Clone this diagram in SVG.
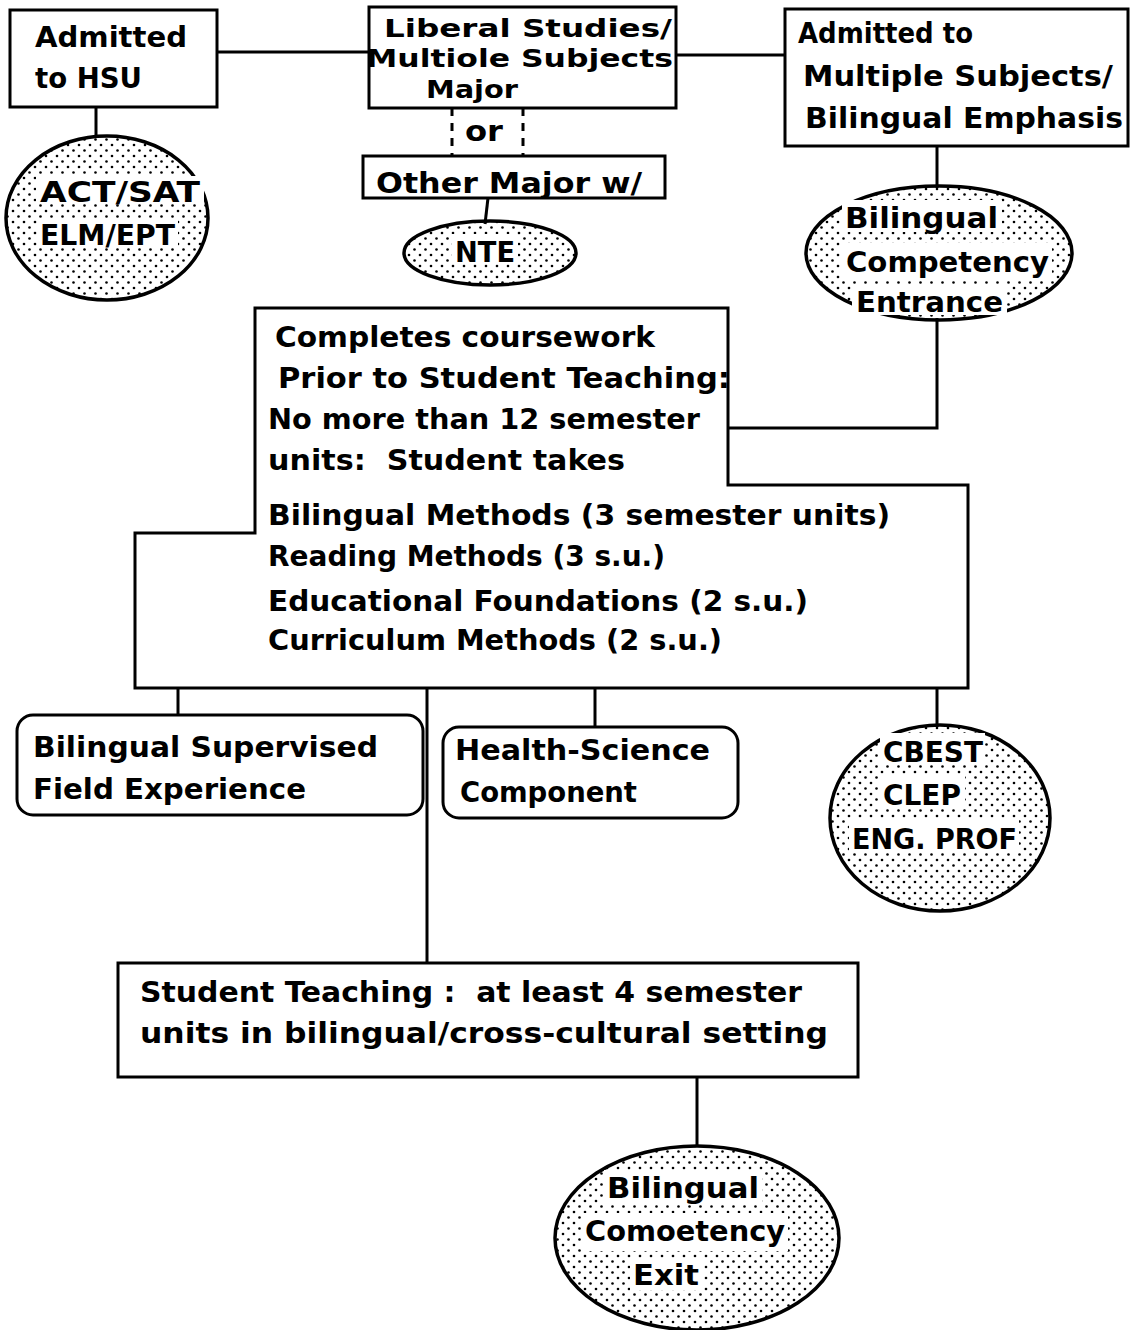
<svg xmlns="http://www.w3.org/2000/svg" width="1130" height="1330" viewBox="0 0 1130 1330">
<defs>
<pattern id="dots" width="11" height="11" patternUnits="userSpaceOnUse">
<circle cx="2" cy="2" r="1.3" fill="#000"/>
<circle cx="7.5" cy="7.5" r="1.3" fill="#000"/>
</pattern>
<style>
.box{fill:#fff;stroke:#000;stroke-width:3}
.oval{fill:url(#dots);stroke:#000;stroke-width:3.5}
.ln{fill:none;stroke:#000;stroke-width:3}
.dash{fill:none;stroke:#000;stroke-width:3;stroke-dasharray:8 7}
.bg{fill:#fff}
.pre{white-space:pre}
.sm{font-size:25px}
text{font-family:"DejaVu Sans Condensed","DejaVu Sans",sans-serif;font-weight:bold;font-size:29px;fill:#000}
</style>
</defs>
<rect width="1130" height="1330" fill="#fff"/>
<g id="connectors">
<path class="ln" d="M217,52 H370"/>
<path class="ln" d="M676,55 H785"/>
<path class="ln" d="M96,107 V137"/>
<path class="dash" d="M452,108 V156"/>
<path class="dash" d="M523,108 V156"/>
<path class="ln" d="M488,198 L485,224"/>
<path class="ln" d="M937,146 V188"/>
<path class="ln" d="M937,318 V428 H728"/>
<path class="ln" d="M178,688 V715"/>
<path class="ln" d="M595,688 V727"/>
<path class="ln" d="M937,688 V727"/>
<path class="ln" d="M427,688 V963"/>
<path class="ln" d="M697,1077 V1147"/>
</g>
<g id="hsu">
<rect class="box" x="10" y="10" width="207" height="97"/>
<text x="35" y="47" textLength="152" lengthAdjust="spacingAndGlyphs">Admitted</text>
<text x="35" y="88" textLength="107" lengthAdjust="spacingAndGlyphs">to HSU</text>
</g>
<g id="act">
<ellipse class="oval" cx="107" cy="218" rx="101" ry="82"/>
<rect class="bg" x="36" y="176" width="168" height="28"/>
<rect class="bg" x="38" y="219" width="140" height="28"/>
<text x="40" y="202" textLength="160" lengthAdjust="spacingAndGlyphs">ACT/SAT</text>
<text x="40" y="245" textLength="135" lengthAdjust="spacingAndGlyphs">ELM/EPT</text>
</g>
<g id="liberal">
<rect class="box" x="369" y="7" width="307" height="101"/>
<text class="sm" x="384" y="37" textLength="288" lengthAdjust="spacingAndGlyphs">Liberal Studies/</text>
<text class="sm" x="366" y="67" textLength="307" lengthAdjust="spacingAndGlyphs">Multiole Subjects</text>
<text class="sm" x="426" y="98" textLength="92" lengthAdjust="spacingAndGlyphs">Major</text>
<text x="465" y="141" textLength="38" lengthAdjust="spacingAndGlyphs">or</text>
</g>
<g id="other">
<rect class="box" x="363" y="156" width="302" height="42"/>
<text x="376" y="193" textLength="266" lengthAdjust="spacingAndGlyphs">Other Major w/</text>
</g>
<g id="nte">
<ellipse class="oval" cx="490" cy="253" rx="86" ry="32"/>
<rect class="bg" x="452" y="234" width="66" height="30"/>
<text x="455" y="262" textLength="60" lengthAdjust="spacingAndGlyphs">NTE</text>
</g>
<g id="admitted-ms">
<rect class="box" x="785" y="9" width="343" height="137"/>
<text x="798" y="43" textLength="175" lengthAdjust="spacingAndGlyphs">Admitted to</text>
<text x="803" y="86" textLength="310" lengthAdjust="spacingAndGlyphs">Multiple Subjects/</text>
<text x="805" y="128" textLength="318" lengthAdjust="spacingAndGlyphs">Bilingual Emphasis</text>
</g>
<g id="entrance">
<ellipse class="oval" cx="939" cy="253" rx="133" ry="67"/>
<rect class="bg" x="842" y="200" width="160" height="32"/>
<rect class="bg" x="842" y="243" width="210" height="38"/>
<rect class="bg" x="852" y="285" width="155" height="30"/>
<text x="845" y="228" textLength="153" lengthAdjust="spacingAndGlyphs">Bilingual</text>
<text x="846" y="272" textLength="203" lengthAdjust="spacingAndGlyphs">Competency</text>
<text x="856" y="312" textLength="147" lengthAdjust="spacingAndGlyphs">Entrance</text>
</g>
<g id="coursework">
<path class="box" d="M255,308 H728 V485 H968 V688 H135 V533 H255 Z"/>
<text x="275" y="347" textLength="380" lengthAdjust="spacingAndGlyphs">Completes coursework</text>
<text x="278" y="388" textLength="452" lengthAdjust="spacingAndGlyphs">Prior to Student Teaching:</text>
<text x="268" y="429" textLength="432" lengthAdjust="spacingAndGlyphs">No more than 12 semester</text>
<text class="pre" x="268" y="470" textLength="357" lengthAdjust="spacingAndGlyphs">units:  Student takes</text>
<text x="268" y="525" textLength="622" lengthAdjust="spacingAndGlyphs">Bilingual Methods (3 semester units)</text>
<text x="268" y="566" textLength="397" lengthAdjust="spacingAndGlyphs">Reading Methods (3 s.u.)</text>
<text x="268" y="611" textLength="540" lengthAdjust="spacingAndGlyphs">Educational Foundations (2 s.u.)</text>
<text x="268" y="650" textLength="454" lengthAdjust="spacingAndGlyphs">Curriculum Methods (2 s.u.)</text>
</g>
<g id="field">
<rect class="box" x="17" y="715" width="406" height="100" rx="16"/>
<text x="33" y="757" textLength="345" lengthAdjust="spacingAndGlyphs">Bilingual Supervised</text>
<text x="33" y="799" textLength="273" lengthAdjust="spacingAndGlyphs">Field Experience</text>
</g>
<g id="health">
<rect class="box" x="443" y="727" width="295" height="91" rx="16"/>
<text x="455" y="760" textLength="255" lengthAdjust="spacingAndGlyphs">Health-Science</text>
<text x="460" y="802" textLength="177" lengthAdjust="spacingAndGlyphs">Component</text>
</g>
<g id="cbest">
<ellipse class="oval" cx="940" cy="818" rx="110" ry="93"/>
<rect class="bg" x="880" y="733" width="105" height="32"/>
<rect class="bg" x="880" y="776" width="85" height="32"/>
<rect class="bg" x="849" y="820" width="170" height="32"/>
<text x="883" y="762" textLength="100" lengthAdjust="spacingAndGlyphs">CBEST</text>
<text x="883" y="805" textLength="78" lengthAdjust="spacingAndGlyphs">CLEP</text>
<text x="852" y="849" textLength="165" lengthAdjust="spacingAndGlyphs">ENG. PROF</text>
</g>
<g id="student-teaching">
<rect class="box" x="118" y="963" width="740" height="114"/>
<text class="pre" x="140" y="1002" textLength="662" lengthAdjust="spacingAndGlyphs">Student Teaching :  at least 4 semester</text>
<text x="140" y="1043" textLength="688" lengthAdjust="spacingAndGlyphs">units in bilingual/cross-cultural setting</text>
</g>
<g id="exit">
<ellipse class="oval" cx="697" cy="1238" rx="142" ry="92"/>
<rect class="bg" x="604" y="1170" width="158" height="34"/>
<rect class="bg" x="582" y="1213" width="206" height="38"/>
<rect class="bg" x="630" y="1258" width="72" height="32"/>
<text x="607" y="1198" textLength="152" lengthAdjust="spacingAndGlyphs">Bilingual</text>
<text x="585" y="1241" textLength="200" lengthAdjust="spacingAndGlyphs">Comoetency</text>
<text x="633" y="1285" textLength="66" lengthAdjust="spacingAndGlyphs">Exit</text>
</g>
</svg>
